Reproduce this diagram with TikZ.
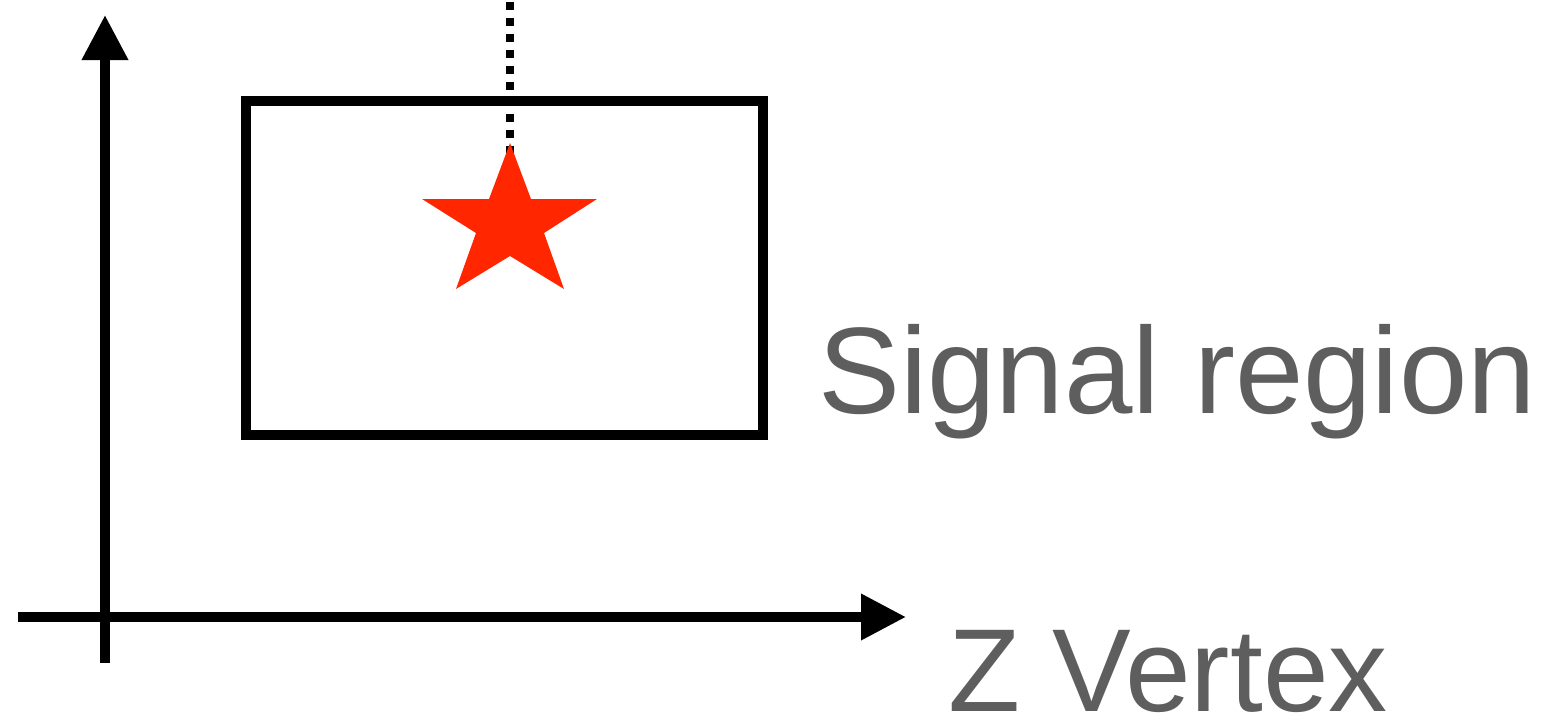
\documentclass[tikz,border=0pt]{standalone}
\usepackage{fontspec}
\setmainfont{Liberation Sans}
\usetikzlibrary{arrows.meta}
\definecolor{starred}{RGB}{255,38,0}
\definecolor{labelgray}{RGB}{94,94,94}
\begin{document}
\begin{tikzpicture}[x=1pt,y=-1pt,
  axis/.style={line width=10pt,-{Triangle[length=45pt,width=44pt]}},
  frame/.style={line width=10pt,line join=miter},
  dotline/.style={line width=8pt,dash pattern=on 8pt off 8pt},
  lbl/.style={text=labelgray,anchor=base west,inner sep=0pt,font=\fontsize{123}{130}\selectfont}]
\useasboundingbox (0,0) rectangle (1551,715);
% axes
\coordinate (ybot) at (105,663);
\coordinate (ytop) at (105,15);
\coordinate (xleft) at (18,617);
\coordinate (xright) at (906,617);
\draw[axis] (ybot) -- (ytop);
\draw[axis] (xleft) -- (xright);
% signal region box
\coordinate (boxA) at (246,101);
\coordinate (boxB) at (763,435);
\draw[frame] (boxA) rectangle (boxB);
% dotted line
\coordinate (dtop) at (510,2);
\coordinate (dbot) at (510,153);
\draw[dotline] (dtop) -- (dbot);
% star
\fill[starred] (510,143) -- (531,199) -- (597,199) -- (544,233) -- (564,289)
  -- (510,256) -- (456,289) -- (476,233) -- (422,199) -- (489,199) -- cycle;
% labels
\node[lbl] (sig) at (818,413) {Signal region};
\node[lbl,font=\fontsize{118}{122}\selectfont] (zv) at (948,711) {Z Vertex};
\end{tikzpicture}
\end{document}
